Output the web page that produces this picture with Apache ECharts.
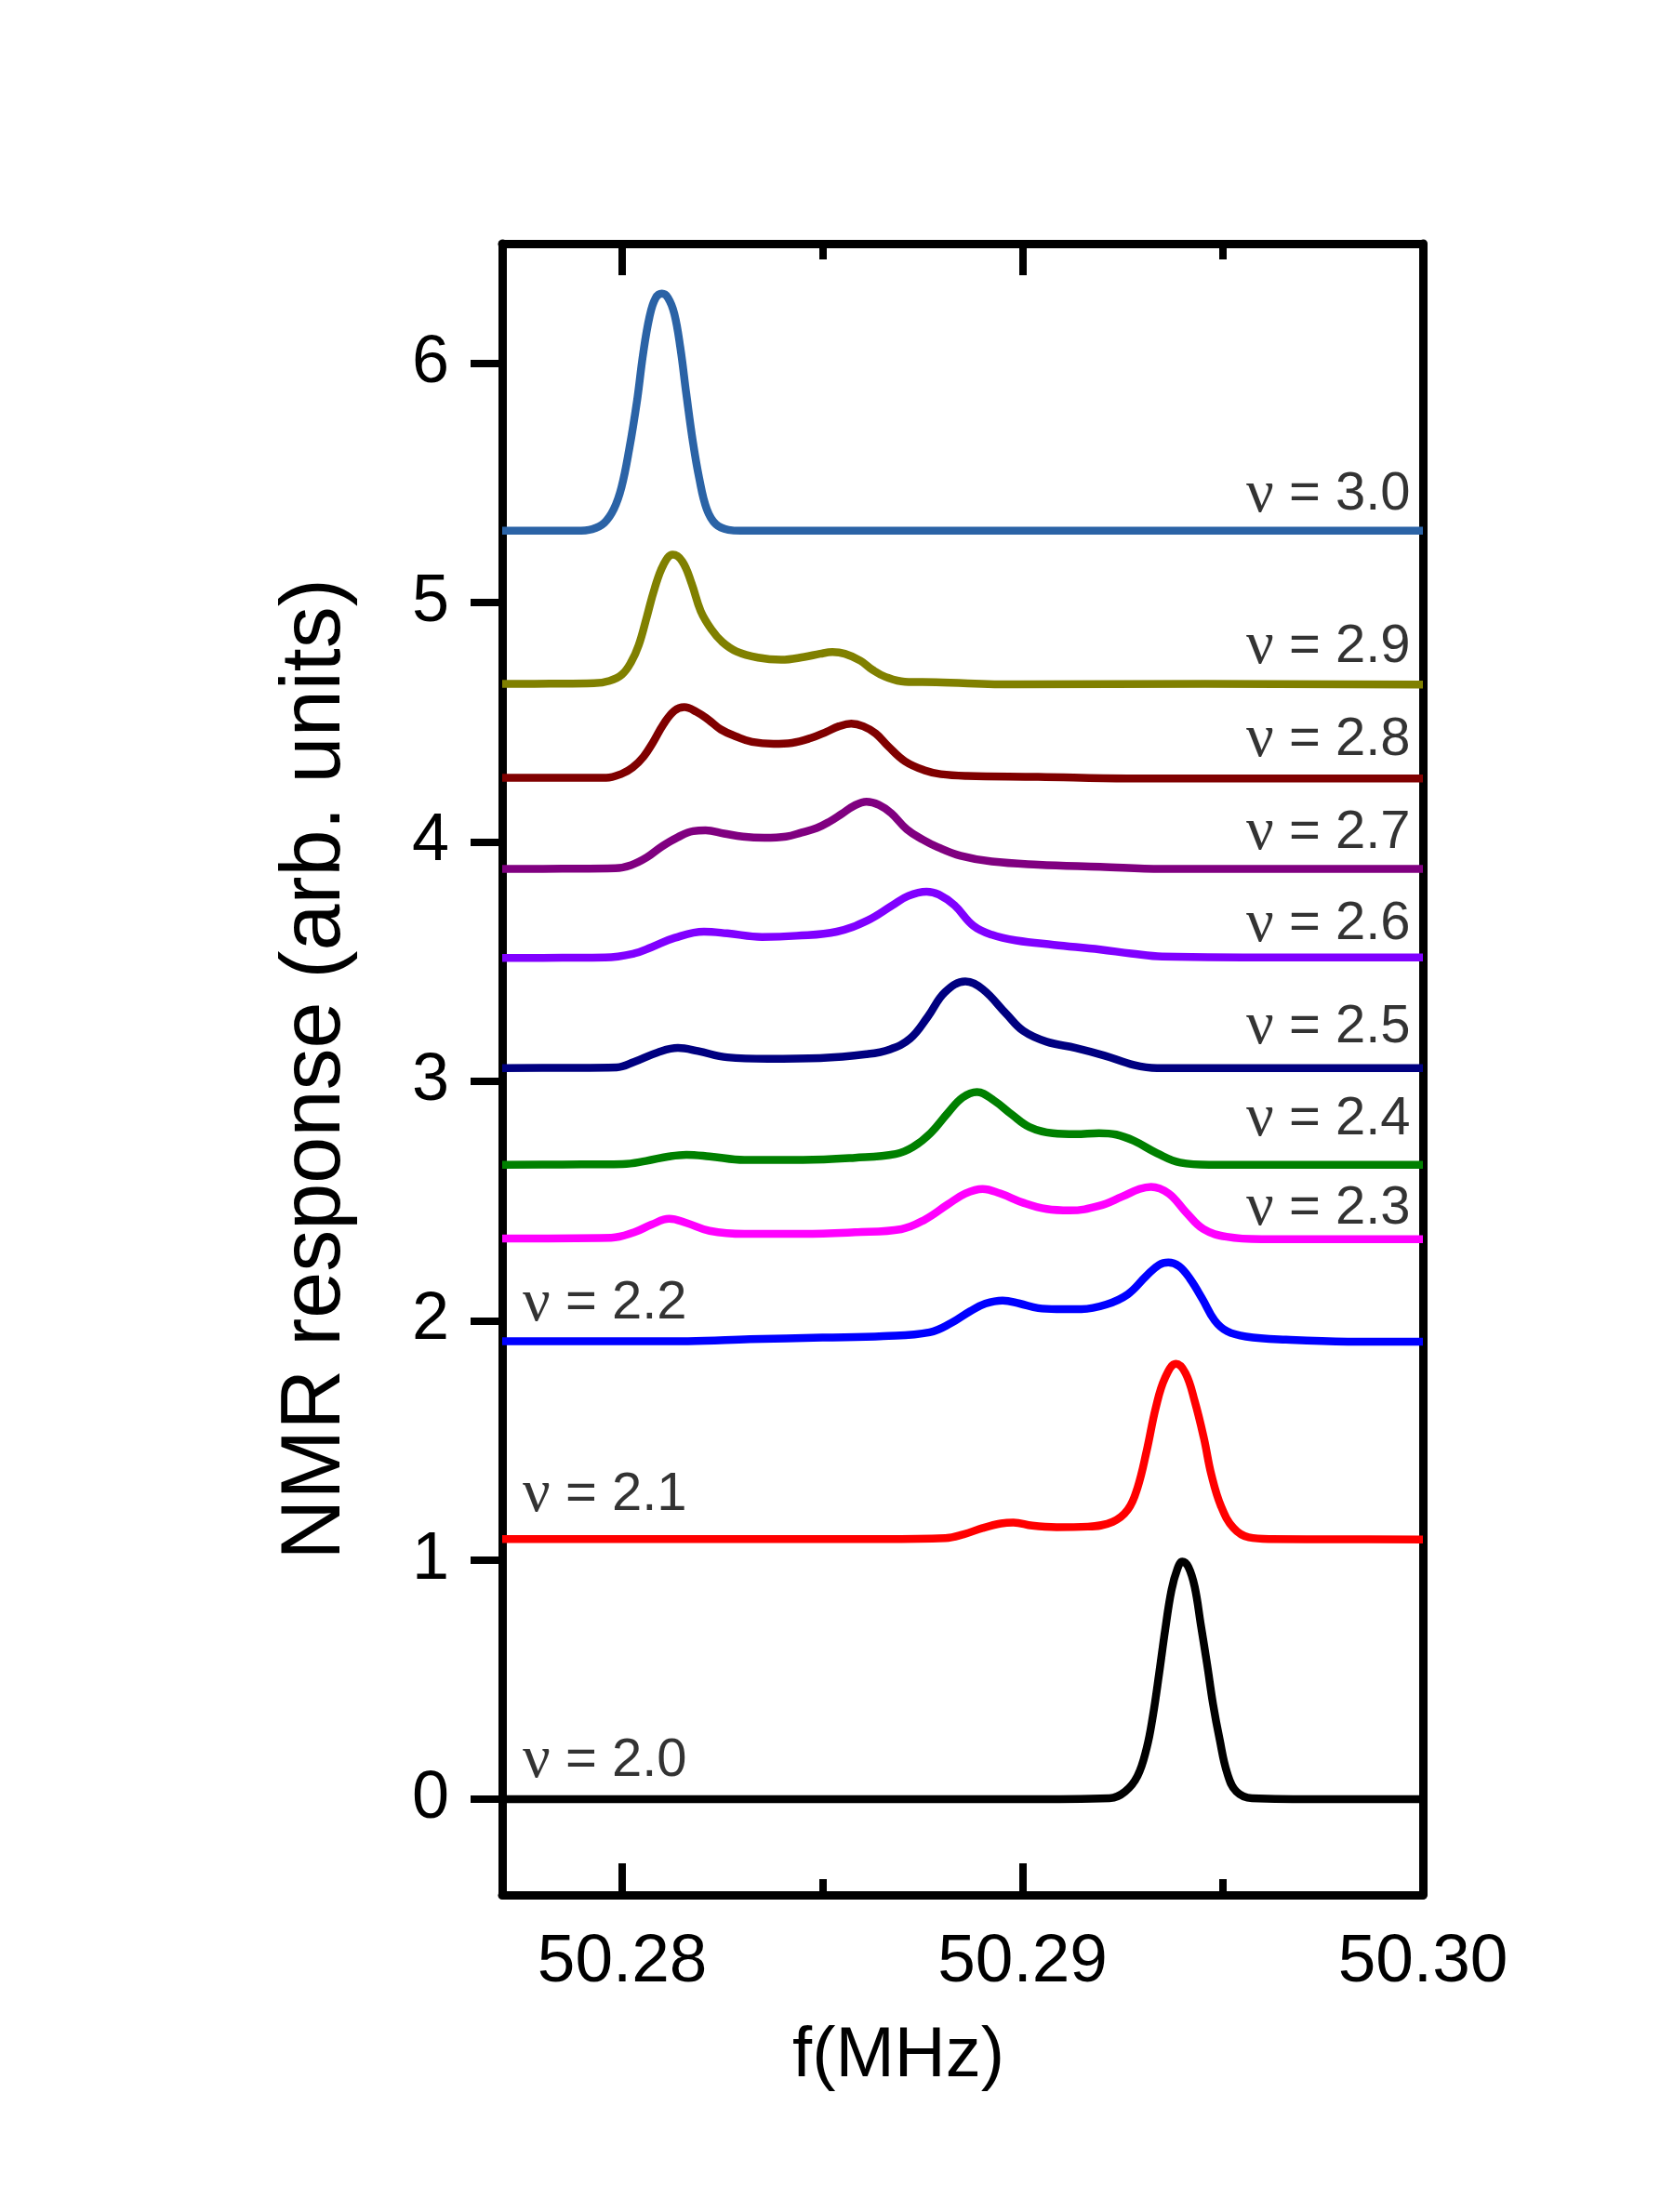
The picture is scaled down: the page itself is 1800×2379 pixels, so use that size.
<!DOCTYPE html>
<html>
<head>
<meta charset="utf-8">
<title>NMR response vs frequency</title>
<script src="https://cdn.jsdelivr.net/npm/echarts@6/dist/echarts.min.js"></script>
<style>
  html, body { margin: 0; padding: 0; background: #fff; }
  #main { width: 1800px; height: 2379px; }
</style>
</head>
<body>
<div id="main"></div>
<script>
// frequency (MHz), response (arb. units, offset per filling factor)
const nu20 = [[50.277,0],[50.2900,0],[50.29217,0.004],[50.29256,0.032],[50.29287,0.097],[50.2931,0.214],[50.29325,0.343],[50.29341,0.524],[50.29356,0.706],[50.29372,0.874],[50.29387,0.964],[50.29399,0.993],[50.29414,0.971],[50.2943,0.887],[50.29445,0.731],[50.29461,0.563],[50.29476,0.395],[50.29492,0.252],[50.29511,0.11],[50.29534,0.032],[50.29573,0.004],[50.2975,0],[50.30,0]]
const nu21 = [[50.277,1.087],[50.282,1.087],[50.28652,1.087],[50.28807,1.091],[50.28853,1.107],[50.289,1.133],[50.28946,1.152],[50.28977,1.156],[50.29024,1.143],[50.29085,1.137],[50.29163,1.139],[50.29225,1.159],[50.29263,1.21],[50.29287,1.301],[50.2931,1.456],[50.29333,1.638],[50.29356,1.761],[50.29383,1.819],[50.29407,1.78],[50.2943,1.663],[50.29453,1.508],[50.29472,1.353],[50.29496,1.223],[50.29527,1.133],[50.29565,1.094],[50.29619,1.087],[50.298,1.086],[50.30,1.085]]
const nu22 = [[50.277,1.914],[50.2795,1.914],[50.28164,1.914],[50.28319,1.922],[50.2850,1.929],[50.28652,1.935],[50.28768,1.951],[50.28822,1.99],[50.28869,2.039],[50.28907,2.071],[50.2895,2.084],[50.28993,2.071],[50.29039,2.052],[50.29085,2.048],[50.29147,2.048],[50.29209,2.067],[50.29263,2.11],[50.2931,2.188],[50.29341,2.233],[50.29364,2.243],[50.29391,2.227],[50.29418,2.175],[50.29449,2.091],[50.2948,2.0],[50.29511,1.955],[50.29558,1.933],[50.29658,1.92],[50.29813,1.912],[50.30,1.912]]
const nu23 = [[50.277,2.343],[50.27972,2.346],[50.2803,2.369],[50.28073,2.401],[50.28117,2.425],[50.2816,2.408],[50.28218,2.375],[50.28305,2.362],[50.28451,2.362],[50.28581,2.369],[50.28697,2.382],[50.28755,2.421],[50.28813,2.485],[50.28857,2.531],[50.289,2.55],[50.28944,2.531],[50.29002,2.492],[50.2906,2.466],[50.29118,2.46],[50.29191,2.479],[50.29249,2.518],[50.29292,2.55],[50.29321,2.559],[50.29365,2.531],[50.29408,2.453],[50.29452,2.382],[50.2951,2.35],[50.29597,2.34],[50.298,2.34],[50.30,2.34]]
const nu24 = [[50.277,2.651],[50.2785,2.652],[50.28001,2.654],[50.28059,2.667],[50.28117,2.686],[50.2816,2.693],[50.28218,2.686],[50.28305,2.671],[50.28451,2.671],[50.28581,2.68],[50.28683,2.696],[50.28726,2.725],[50.2877,2.783],[50.28813,2.867],[50.2885,2.932],[50.28886,2.955],[50.28929,2.919],[50.28973,2.861],[50.29017,2.809],[50.29075,2.783],[50.29133,2.779],[50.29191,2.783],[50.29234,2.777],[50.29278,2.751],[50.29336,2.699],[50.29394,2.66],[50.29466,2.651],[50.2975,2.651],[50.30,2.651]]
const nu25 = [[50.277,3.055],[50.2785,3.056],[50.27986,3.058],[50.2803,3.081],[50.28088,3.12],[50.28139,3.139],[50.28189,3.126],[50.28262,3.10],[50.28364,3.094],[50.28494,3.097],[50.2861,3.113],[50.28668,3.133],[50.28719,3.178],[50.28763,3.269],[50.28806,3.372],[50.28857,3.417],[50.289,3.385],[50.28959,3.282],[50.29002,3.21],[50.2906,3.165],[50.29133,3.139],[50.29205,3.107],[50.29278,3.068],[50.29336,3.055],[50.2965,3.055],[50.30,3.055]]
const nu26 = [[50.277,3.515],[50.2785,3.516],[50.27957,3.517],[50.2803,3.534],[50.28073,3.56],[50.28131,3.599],[50.28204,3.625],[50.28262,3.618],[50.28349,3.603],[50.28436,3.608],[50.28536,3.625],[50.28613,3.672],[50.28675,3.735],[50.28714,3.774],[50.2876,3.792],[50.28791,3.78],[50.2883,3.735],[50.28877,3.65],[50.28923,3.612],[50.28985,3.588],[50.29078,3.57],[50.29194,3.55],[50.29271,3.534],[50.29349,3.521],[50.29697,3.517],[50.30,3.517]]
const nu27 = [[50.277,3.887],[50.2785,3.888],[50.27983,3.89],[50.28022,3.903],[50.28061,3.935],[50.28099,3.981],[50.28138,4.019],[50.28177,4.045],[50.28208,4.048],[50.28254,4.035],[50.28301,4.022],[50.28355,4.017],[50.28409,4.022],[50.28448,4.039],[50.28486,4.058],[50.28517,4.084],[50.28548,4.117],[50.28579,4.151],[50.2861,4.168],[50.28641,4.155],[50.28672,4.12],[50.28711,4.052],[50.2875,4.01],[50.28788,3.978],[50.28845,3.942],[50.28923,3.918],[50.29039,3.905],[50.29194,3.896],[50.29349,3.887],[50.2965,3.887],[50.30,3.887]]
const nu28 = [[50.277,4.268],[50.2785,4.268],[50.2796,4.268],[50.27999,4.285],[50.28026,4.311],[50.28053,4.356],[50.28076,4.414],[50.28103,4.492],[50.2813,4.548],[50.28155,4.563],[50.28185,4.544],[50.28215,4.511],[50.28246,4.47],[50.28285,4.44],[50.28324,4.418],[50.28378,4.41],[50.28424,4.414],[50.28471,4.434],[50.2851,4.46],[50.28541,4.483],[50.28572,4.494],[50.28602,4.483],[50.28633,4.453],[50.28664,4.40],[50.28706,4.337],[50.28757,4.298],[50.28796,4.283],[50.28861,4.276],[50.29039,4.272],[50.29263,4.265],[50.2965,4.265],[50.30,4.265]]
const nu29 = [[50.277,4.66],[50.2782,4.661],[50.27929,4.663],[50.27968,4.673],[50.27999,4.699],[50.28022,4.751],[50.28041,4.822],[50.28061,4.939],[50.2808,5.055],[50.28103,5.159],[50.28126,5.20],[50.2815,5.172],[50.28173,5.081],[50.28196,4.964],[50.28223,4.887],[50.2825,4.835],[50.28285,4.796],[50.28339,4.77],[50.28397,4.761],[50.28455,4.773],[50.28494,4.786],[50.28525,4.793],[50.28556,4.786],[50.28595,4.757],[50.28626,4.718],[50.28657,4.69],[50.28706,4.669],[50.28784,4.667],[50.28985,4.658],[50.29457,4.66],[50.30,4.657]]
const nu30 = [[50.277,5.30],[50.278,5.30],[50.27886,5.30],[50.27925,5.307],[50.27955,5.333],[50.27979,5.391],[50.27998,5.482],[50.28017,5.638],[50.28037,5.845],[50.28052,6.039],[50.28068,6.194],[50.28083,6.272],[50.28099,6.291],[50.28114,6.274],[50.2813,6.207],[50.28145,6.065],[50.2816,5.871],[50.28176,5.676],[50.28192,5.521],[50.28211,5.391],[50.28234,5.327],[50.28265,5.304],[50.28296,5.30],[50.2855,5.30],[50.29,5.30],[50.30,5.30]]

const curves = [nu20, nu21, nu22, nu23, nu24, nu25, nu26, nu27, nu28, nu29, nu30]
const nuNames = ['2.0', '2.1', '2.2', '2.3', '2.4', '2.5', '2.6', '2.7', '2.8', '2.9', '3.0']
const colors = ['#000000', '#ff0000', '#0000ff', '#ff00ff', '#008000', '#000080', '#8000ff', '#800080', '#800000', '#808000', '#2b63a6']

// where each "ν = x" tag sits (data units, middle of the text)
const labelY = [0.16, 1.27, 2.07, 2.467, 2.84, 3.225, 3.655, 4.038, 4.427, 4.815, 5.45]
const labelSide = ['left', 'left', 'left', 'right', 'right', 'right', 'right', 'right', 'right', 'right', 'right']

const xTicks = [50.28, 50.29, 50.30]
const xMinorTicks = [50.285, 50.295]
const yTicks = [0, 1, 2, 3, 4, 5, 6]

const X_MIN = 50.277, X_MAX = 50.30
const Y_MIN = -0.4, Y_MAX = 6.5
const FONT = '"Liberation Sans", Arial, sans-serif'

const chart = echarts.init(document.getElementById('main'), null, { renderer: 'canvas' })

const lineSeries = curves.map((d, i) => ({
  name: 'ν = ' + nuNames[i],
  type: 'line',
  data: d,
  showSymbol: false,
  smooth: 0.4,
  lineStyle: { color: colors[i], width: 8.5, join: 'round', cap: 'butt' },
  z: 3
}))

const tagData = nuNames.map((n, i) => ({
  value: [labelSide[i] === 'right' ? X_MAX - 0.0003 : X_MIN + 0.0005, labelY[i]],
  label: { position: labelSide[i] === 'right' ? 'left' : 'right' },
  text: n
}))

const tagSeries = {
  type: 'scatter',
  data: tagData,
  symbolSize: 1,
  itemStyle: { color: 'rgba(0,0,0,0)' },
  silent: true,
  z: 4,
  label: {
    show: true,
    distance: 0,
    color: '#000',
    fontFamily: FONT,
    fontSize: 58,
    formatter: p => '{n|ν} = ' + p.data.text,
    rich: {
      n: { fontFamily: '"Liberation Serif", "Times New Roman", serif', fontSize: 66, color: '#000' }
    }
  }
}

const baseX = {
  type: 'value', min: X_MIN, max: X_MAX,
  splitLine: { show: false }
}

const option = {
  animation: false,
  backgroundColor: '#fff',
  grid: { left: 540, right: 270, top: 262, bottom: 341 },
  xAxis: [
    Object.assign({}, baseX, {
      position: 'bottom',
      name: 'f(MHz)',
      nameLocation: 'middle',
      nameGap: 136,
      nameTextStyle: { fontFamily: FONT, fontSize: 76, color: '#000', padding: [0, 138, 0, 0] },
      axisLine: { show: true, onZero: false, lineStyle: { color: '#000', width: 9 } },
      axisTick: { show: true, inside: true, length: 34, customValues: xTicks, lineStyle: { color: '#000', width: 8 } },
      axisLabel: { show: true, customValues: xTicks, margin: 36, fontFamily: FONT, fontSize: 73, color: '#000', formatter: v => v.toFixed(2) }
    }),
    Object.assign({}, baseX, {
      position: 'bottom',
      axisLine: { show: false, onZero: false },
      axisTick: { show: true, inside: true, length: 17, customValues: xMinorTicks, lineStyle: { color: '#000', width: 8 } },
      axisLabel: { show: false }
    }),
    Object.assign({}, baseX, {
      position: 'top',
      axisLine: { show: true, onZero: false, lineStyle: { color: '#000', width: 9 } },
      axisTick: { show: true, inside: true, length: 34, customValues: xTicks, lineStyle: { color: '#000', width: 8 } },
      axisLabel: { show: false }
    }),
    Object.assign({}, baseX, {
      position: 'top',
      axisLine: { show: false, onZero: false },
      axisTick: { show: true, inside: true, length: 17, customValues: xMinorTicks, lineStyle: { color: '#000', width: 8 } },
      axisLabel: { show: false }
    })
  ],
  yAxis: [
    {
      type: 'value', min: Y_MIN, max: Y_MAX, position: 'left',
      name: 'NMR response (arb. units)',
      nameLocation: 'middle',
      nameGap: 155,
      nameTextStyle: { fontFamily: FONT, fontSize: 90, color: '#000' },
      splitLine: { show: false },
      axisLine: { show: true, onZero: false, lineStyle: { color: '#000', width: 9 } },
      axisTick: { show: true, inside: false, length: 34, customValues: yTicks, lineStyle: { color: '#000', width: 8 } },
      axisLabel: { show: true, customValues: yTicks, margin: 57, fontFamily: FONT, fontSize: 72, color: '#000' }
    },
    {
      type: 'value', min: Y_MIN, max: Y_MAX, position: 'right',
      splitLine: { show: false },
      axisLine: { show: true, onZero: false, lineStyle: { color: '#000', width: 9 } },
      axisTick: { show: false },
      axisLabel: { show: false }
    }
  ],
  series: lineSeries.concat([tagSeries])
}

chart.setOption(option)
</script>
</body>
</html>
